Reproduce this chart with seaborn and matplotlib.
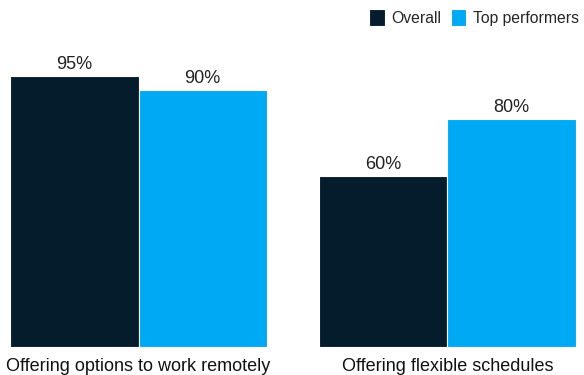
import matplotlib
matplotlib.use("Agg")
import matplotlib.pyplot as plt
import seaborn as sns
import pandas as pd

categories = ["Offering options to work remotely", "Offering flexible schedules"]
series = ["Overall", "Top performers"]
overall = [95, 60]
top_performers = [90, 80]
colors = ["#051C2C", "#00A9F4"]

df = pd.DataFrame({
    "category": categories * 2,
    "group": [series[0]] * 2 + [series[1]] * 2,
    "value": overall + top_performers,
})

sns.set_theme(style="white")
plt.rcParams["font.family"] = ["Liberation Sans", "DejaVu Sans"]

fig = plt.figure(figsize=(5.84, 3.75), dpi=100)
ax = fig.add_axes([10 / 584, (375 - 347) / 375, 566 / 584, (347 - 45) / 375])

sns.barplot(data=df, x="category", y="value", hue="group", palette=colors,
            width=0.83, edgecolor="white", linewidth=0.8, saturation=1,
            ax=ax, legend=True)

ax.set_xlim(-0.416, 1.416)
ax.set_ylim(0, 95 * 302 / 271)

for container in ax.containers:
    ax.bar_label(container, labels=[f"{v:.0f}%" for v in container.datavalues],
                 padding=2, fontsize=13, color="#222222")

ax.set_xlabel("")
ax.set_ylabel("")
ax.set_yticks([])
ax.tick_params(axis="x", length=0, pad=8, labelsize=13, labelcolor="#111111")
for s in ax.spines.values():
    s.set_visible(False)

handles, labels = ax.get_legend_handles_labels()
ax.legend(handles, labels, loc="upper right", bbox_to_anchor=(1.0 + 9 / 566, 1.0 + 42 / 302),
          ncol=2, frameon=False, fontsize=11.3, handlelength=1.0, handleheight=1.3,
          handletextpad=0.4, columnspacing=0.6, borderaxespad=0)

fig.savefig("out.png", dpi=100)
